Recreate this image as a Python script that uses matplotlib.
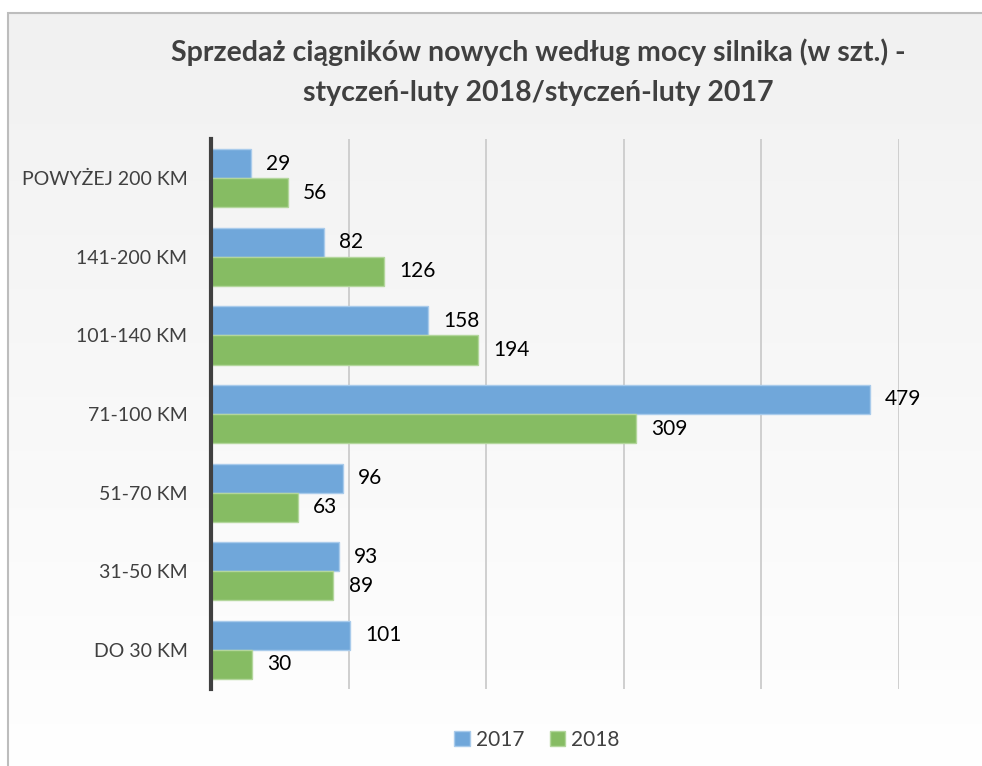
import matplotlib.pyplot as plt
import numpy as np
from matplotlib.patches import Rectangle, Patch

# data (top to bottom, as in the chart)
categories = ['POWYŻEJ 200 KM', '141-200 KM', '101-140 KM', '71-100 KM',
              '51-70 KM', '31-50 KM', 'DO 30 KM']
sales_2017 = [29, 82, 158, 479, 96, 93, 101]
sales_2018 = [56, 126, 194, 309, 63, 89, 30]
series_names = ['2017', '2018']

blue = '#70A7DA'
green = '#86BC63'

plt.rcParams['font.family'] = ['Lato', 'DejaVu Sans']

fig = plt.figure(figsize=(9.82, 7.66), dpi=100)

# background gradient inside the chart frame
bg = fig.add_axes([0, 0, 1, 1], zorder=-5)
grad = np.linspace(0.945, 1.0, 256).reshape(-1, 1)
bg.imshow(np.dstack([grad, grad, grad]), aspect='auto',
          extent=[8 / 982, 1.02, -0.02, 1 - 13 / 766], origin='upper')
bg.add_patch(Rectangle((8 / 982, -0.02), 1.1, 1 - 13 / 766 + 0.02,
                       fill=False, edgecolor='#bdbdbd', linewidth=1.5))
bg.set_xlim(0, 1)
bg.set_ylim(0, 1)
bg.axis('off')

ax = fig.add_axes([211 / 982, 1 - 689 / 766, (899 - 211) / 982, (689 - 139) / 766])
ax.patch.set_alpha(0)

y = np.arange(len(categories))
h = 0.37
bars1 = ax.barh(y - h / 2, sales_2017, height=h, color=blue,
                edgecolor='#a9cbeb', linewidth=1, label=series_names[0])
bars2 = ax.barh(y + h / 2, sales_2018, height=h, color=green,
                edgecolor='#b3d69c', linewidth=1, label=series_names[1])

for bars in (bars1, bars2):
    for b in bars:
        ax.text(b.get_width() + 11, b.get_y() + b.get_height() / 2,
                str(int(b.get_width())), va='center', ha='left',
                fontsize=15, color='black')

ax.set_xlim(0, 500)
ax.set_ylim(len(categories) - 0.5, -0.5)
ax.set_yticks(y)
ax.set_yticklabels(categories, fontsize=14, color='#404040')
ax.set_xticks([100, 200, 300, 400, 500])
ax.tick_params(axis='x', length=0, labelbottom=False)
ax.tick_params(axis='y', length=0, pad=17)
ax.grid(axis='x', color='#c8c8c8', linewidth=1.2)
ax.set_axisbelow(True)
for s in ['top', 'right', 'bottom']:
    ax.spines[s].set_visible(False)
ax.spines['left'].set_color('#404040')
ax.spines['left'].set_linewidth(3)

fig.text(538 / 982, 1 - 52 / 766, 'Sprzedaż ciągników nowych według mocy silnika (w szt.) -',
         ha='center', va='center', fontsize=20.5, fontweight='bold', color='#404040')
fig.text(538 / 982, 1 - 93 / 766, 'styczeń-luty 2018/styczeń-luty 2017',
         ha='center', va='center', fontsize=20.5, fontweight='bold', color='#404040')

handles = [Patch(facecolor=blue, edgecolor='#a9cbeb'),
           Patch(facecolor=green, edgecolor='#b3d69c')]
fig.legend(handles, series_names, loc='center', bbox_to_anchor=(537 / 982, 1 - 740 / 766),
           ncol=2, frameon=False, fontsize=15, handlelength=0.75, handleheight=0.75,
           handletextpad=0.3, columnspacing=1.2, labelcolor='#404040')

fig.savefig('out.png', dpi=100)
